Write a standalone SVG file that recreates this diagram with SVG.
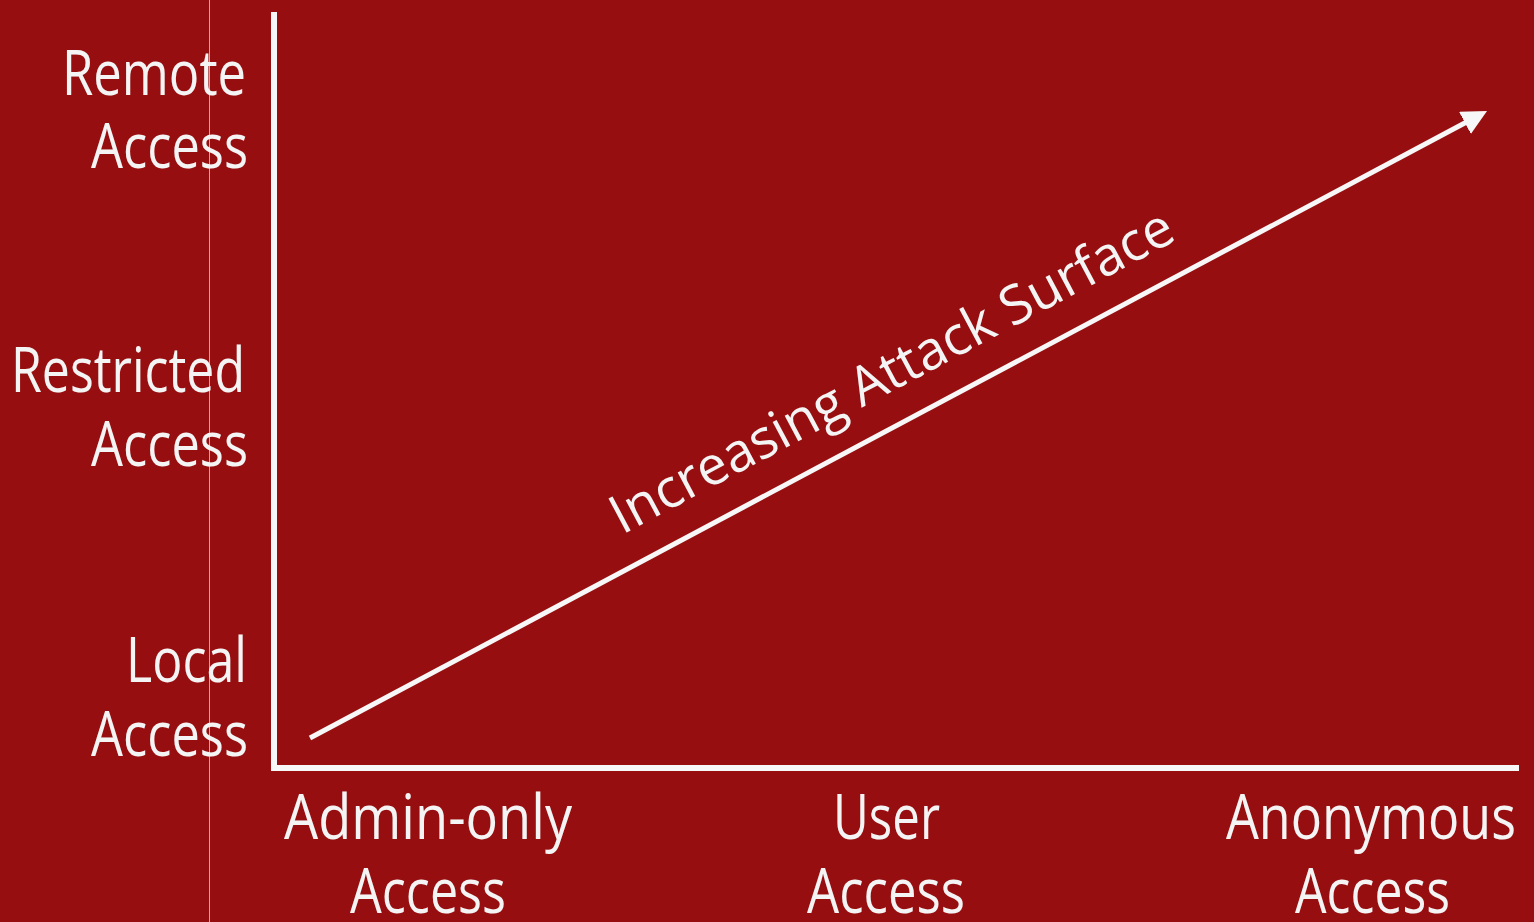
<svg xmlns="http://www.w3.org/2000/svg" width="1534" height="922" viewBox="0 0 1534 922">
<style>
.lbl{font-family:"Open Sans","Noto Sans","DejaVu Sans",sans-serif;font-size:62px;fill:#f4f4f4;}
.ax{stroke:#f7f7f7;stroke-width:6;fill:none;}
</style>
<defs>
<marker id="ah" markerWidth="5" markerHeight="5" refX="2.5" refY="2.5" orient="auto" markerUnits="strokeWidth" viewBox="0 0 5 5">
<path d="M0,0 L5,2.5 L0,5 Z" fill="#f7f7f7"/>
</marker>
</defs>
<rect x="0" y="0" width="1534" height="922" fill="#970e10"/>
<line x1="209.5" y1="0" x2="209.5" y2="922" stroke="#c9a9a9" stroke-width="1"/>
<g id="axes">
<line class="ax" x1="274" y1="12" x2="274" y2="771"/>
<line class="ax" x1="271" y1="768" x2="1519" y2="768"/>
</g>
<g id="connectors">
<line x1="310" y1="738" x2="1476" y2="117" stroke="#f7f7f7" stroke-width="5" marker-end="url(#ah)"/>
</g>
<g id="y-remote">
<text class="lbl" x="62" y="95" textLength="184" lengthAdjust="spacingAndGlyphs">Remote</text>
<text class="lbl" x="91" y="168" textLength="157" lengthAdjust="spacingAndGlyphs">Access</text>
</g>
<g id="y-restricted">
<text class="lbl" x="11" y="392" textLength="234" lengthAdjust="spacingAndGlyphs">Restricted</text>
<text class="lbl" x="91" y="466" textLength="157" lengthAdjust="spacingAndGlyphs">Access</text>
</g>
<g id="y-local">
<text class="lbl" x="126" y="682" textLength="121" lengthAdjust="spacingAndGlyphs">Local</text>
<text class="lbl" x="91" y="756" textLength="157" lengthAdjust="spacingAndGlyphs">Access</text>
</g>
<g id="x-admin">
<text class="lbl" x="284" y="839" textLength="288" lengthAdjust="spacingAndGlyphs">Admin-only</text>
<text class="lbl" x="350" y="913" textLength="156" lengthAdjust="spacingAndGlyphs">Access</text>
</g>
<g id="x-user">
<text class="lbl" x="833" y="839" textLength="107" lengthAdjust="spacingAndGlyphs">User</text>
<text class="lbl" x="807" y="913" textLength="158" lengthAdjust="spacingAndGlyphs">Access</text>
</g>
<g id="x-anon">
<text class="lbl" x="1226" y="839" textLength="290" lengthAdjust="spacingAndGlyphs">Anonymous</text>
<text class="lbl" x="1295" y="913" textLength="155" lengthAdjust="spacingAndGlyphs">Access</text>
</g>
<g id="arrow-label">
<text class="lbl" style="font-size:54px" transform="translate(622,535) rotate(-28)" x="0" y="0" textLength="630" lengthAdjust="spacingAndGlyphs">Increasing Attack Surface</text>
</g>
</svg>
